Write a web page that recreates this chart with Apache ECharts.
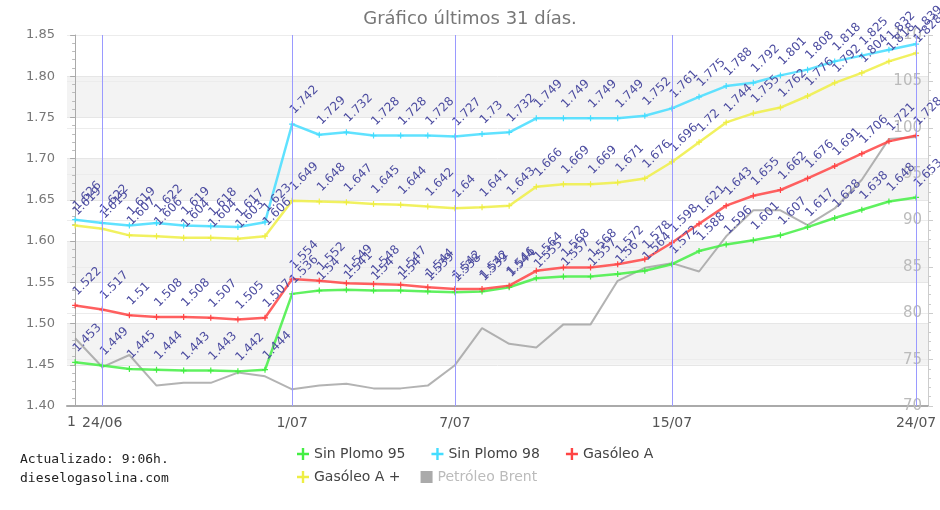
<!DOCTYPE html>
<html>
<head>
<meta charset="utf-8">
<script src="https://cdn.jsdelivr.net/npm/echarts@6/dist/echarts.min.js"></script>
<style>html,body{margin:0;padding:0;background:#fff}#c{width:940px;height:510px}</style>
</head>
<body>
<div id="c"></div>
<script>
const dates = ['23/06','24/06','25/06','26/06','27/06','28/06','29/06','30/06',
  '1/07','2/07','3/07','4/07','5/07','6/07','7/07','8/07','9/07','10/07','11/07','12/07',
  '13/07','14/07','15/07','16/07','17/07','18/07','19/07','20/07','21/07','22/07','23/07','24/07'];
const tickLabels = {1:'24/06', 8:'1/07', 14:'7/07', 22:'15/07', 31:'24/07'};
const markDays = [1, 8, 14, 22, 31];

const sinPlomo95 = [1.453,1.449,1.445,1.444,1.443,1.443,1.442,1.444,
  1.536,1.540,1.541,1.540,1.540,1.539,1.538,1.539,1.544,1.555,1.557,1.557,
  1.560,1.564,1.572,1.588,1.596,1.601,1.607,1.617,1.628,1.638,1.648,1.653];
const sinPlomo98 = [1.626,1.622,1.619,1.622,1.619,1.618,1.617,1.623,
  1.742,1.729,1.732,1.728,1.728,1.728,1.727,1.73,1.732,1.749,1.749,1.749,
  1.749,1.752,1.761,1.775,1.788,1.792,1.801,1.808,1.818,1.825,1.832,1.839];
const gasoleoA = [1.522,1.517,1.51,1.508,1.508,1.507,1.505,1.507,
  1.554,1.552,1.549,1.548,1.547,1.544,1.542,1.542,1.546,1.564,1.568,1.568,
  1.572,1.578,1.598,1.621,1.643,1.655,1.662,1.676,1.691,1.706,1.721,1.728];
const gasoleoAPlus = [1.619,1.615,1.607,1.606,1.604,1.604,1.603,1.606,
  1.649,1.648,1.647,1.645,1.644,1.642,1.64,1.641,1.643,1.666,1.669,1.669,
  1.671,1.676,1.696,1.72,1.744,1.755,1.762,1.776,1.792,1.804,1.818,1.828];
const brent = [77.3,74.2,75.5,72.2,72.5,72.5,73.6,73.2,
  71.8,72.2,72.4,71.9,71.9,72.2,74.4,78.4,76.7,76.3,78.8,78.8,
  83.5,84.9,85.4,84.5,88.3,91.1,91.1,89.5,91.3,94.4,98.8,99.0];

const chart = echarts.init(document.getElementById('c'));
const plus = 'path://M4,0L6,0L6,4L10,4L10,6L6,6L6,10L4,10L4,6L0,6L0,4L4,4Z';
const lblColor = '#4c4ca0';
function priceSeries(name, vals, color, withMarks) {
  const s = {
    name, type: 'line', xAxisIndex: 0, yAxisIndex: 0,
    data: vals.map((v, i) => [i, v]),
    symbol: plus, symbolSize: 6,
    itemStyle: { color },
    lineStyle: { color, width: 2.5, opacity: 0.85 },
    label: {
      show: true, rotate: 45, position: 'top', distance: 9,
      align: 'left', verticalAlign: 'middle',
      color: lblColor, fontSize: 12, fontFamily: 'DejaVu Sans',
      formatter: p => String(p.value[1])
    },
    z: 3
  };
  if (withMarks) {
    s.markLine = {
      silent: true, symbol: 'none', label: { show: false },
      lineStyle: { color: '#9a9aff', width: 1, type: 'solid' },
      data: markDays.map(d => ({ xAxis: d }))
    };
  }
  return s;
}

const option = {
  animation: false,
  title: {
    text: 'Gráfico últimos 31 días.', left: 'center', top: 5,
    textStyle: { color: '#777', fontSize: 18, fontWeight: 'normal', fontFamily: 'DejaVu Sans' }
  },
  legend: [
    { left: 292, top: 442, itemWidth: 12, itemHeight: 12, itemGap: 26,
      textStyle: { color: '#444', fontSize: 14, fontFamily: 'DejaVu Sans' },
      data: [{ name: 'Sin Plomo 95', icon: plus }, { name: 'Sin Plomo 98', icon: plus }, { name: 'Gasóleo A', icon: plus }] },
    { left: 292, top: 465, itemWidth: 12, itemHeight: 12, itemGap: 20,
      textStyle: { color: '#444', fontSize: 14, fontFamily: 'DejaVu Sans' },
      data: [{ name: 'Gasóleo A +', icon: plus },
             { name: 'Petróleo Brent', icon: 'rect', itemStyle: { color: '#aaa' }, textStyle: { color: '#bbb' } }] }
  ],
  graphic: [
    { type: 'text', left: 20, top: 450, style: { text: 'Actualizado: 9:06h.\ndieselogasolina.com', fill: '#222', font: '13px "DejaVu Sans Mono"', lineHeight: 19 } },
    { type: 'text', left: 67, top: 415, style: { text: '1', fill: '#555', font: '14px "DejaVu Sans"' } }
  ],
  grid: { left: 67, right: 12, top: 35, bottom: 104 },
  xAxis: {
    type: 'value', min: -0.3, max: 31.44,
    axisLine: { show: true, lineStyle: { color: '#aaa', width: 2 } },
    axisTick: { show: false },
    splitLine: { show: false },
    axisLabel: {
      customValues: markDays, margin: 10,
      color: '#555', fontSize: 14, fontFamily: 'DejaVu Sans',
      formatter: v => tickLabels[Math.round(v)] || ''
    }
  },
  yAxis: [
    { type: 'value', min: 1.40, max: 1.85, interval: 0.05, position: 'left',
      axisLine: { show: true, lineStyle: { color: '#aaa' } },
      axisTick: { show: true, length: 5, lineStyle: { color: '#aaa' } },
      minorTick: { show: true, splitNumber: 5, length: 3, lineStyle: { color: '#bbb' } },
      axisLabel: { color: '#777', fontSize: 13, fontFamily: 'DejaVu Sans', formatter: v => v.toFixed(2), margin: 12 },
      splitLine: { show: true, lineStyle: { color: '#e6e6e6' } },
      splitArea: { show: true, areaStyle: { color: ['#ffffff', '#f3f3f3'] } } },
    { type: 'value', min: 70, max: 110, interval: 5, position: 'right',
      axisLine: { show: true, lineStyle: { color: '#ccc' } },
      axisTick: { show: true, length: 5, inside: false, lineStyle: { color: '#ccc' } },
      minorTick: { show: true, splitNumber: 5, length: 3, lineStyle: { color: '#ccc' } },
      axisLabel: { inside: true, color: '#bbb', fontSize: 15, fontFamily: 'DejaVu Sans', margin: 6 },
      splitLine: { show: true, lineStyle: { color: '#ececec' } } }
  ],
  series: [
    { name: 'Petróleo Brent', type: 'line', xAxisIndex: 0, yAxisIndex: 1,
      data: brent.map((v, i) => [i, v]), symbol: 'none',
      itemStyle: { color: '#aaa' }, lineStyle: { color: '#999', width: 2, opacity: 0.75 }, z: 2 },
    priceSeries('Sin Plomo 95', sinPlomo95, '#44ee44', true),
    priceSeries('Sin Plomo 98', sinPlomo98, '#44ddff', false),
    priceSeries('Gasóleo A', gasoleoA, '#ff4444', false),
    priceSeries('Gasóleo A +', gasoleoAPlus, '#eeee44', false)
  ]
};
chart.setOption(option);
</script>
</body>
</html>
